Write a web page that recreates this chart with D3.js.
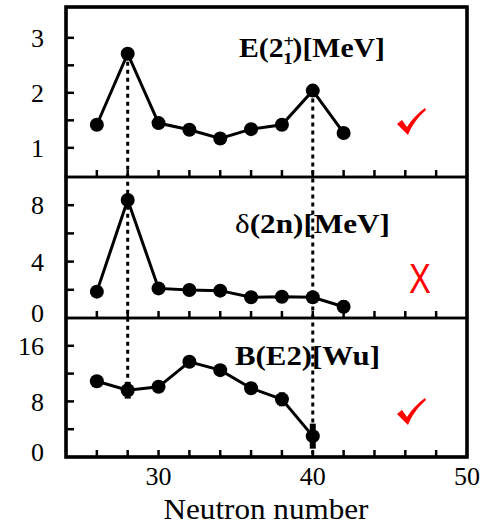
<!DOCTYPE html>
<html>
<head>
<meta charset="utf-8">
<script src="https://cdn.jsdelivr.net/npm/d3@7/dist/d3.min.js"></script>
<style>
  html, body { margin: 0; padding: 0; background: #fff; }
  svg { display: block; }
  text { font-family: "Liberation Serif", "Times New Roman", serif; fill: #000; }
</style>
</head>
<body>
<div id="chart"></div>
<script>
(() => {
  'use strict';

  // ── Data ──
  const neutrons   = [26, 28, 30, 32, 34, 36, 38, 40, 42];
  const e2Values   = [1.42, 2.71, 1.45, 1.33, 1.17, 1.34, 1.42, 2.04, 1.27];
  const d2nValues  = [1.87, 8.37, 2.10, 1.99, 1.94, 1.47, 1.51, 1.47, 0.80];
  const d2nErrors  = [0, 0.3, 0, 0, 0, 0, 0, 0, 0.45];
  const be2Neutron = [26, 28, 30, 32, 34, 36, 38, 40];
  const be2Values  = [10.9, 9.6, 10.1, 13.7, 12.5, 9.9, 8.3, 3.0];
  const be2Errors  = [0, 1.2, 0, 0, 0, 0, 1.0, 1.8];
  const xTickVals  = [30, 40, 50];
  const xMinorVals = [26, 28, 32, 34, 36, 38, 42, 44, 46, 48];

  // ── Layout ──
  const W = 480, H = 524;
  const left = 66, right = 467;
  const x = d3.scaleLinear().domain([24, 50]).range([left, right]);

  const panels = [
    { top: 7,   bottom: 177, domain: [0.47, 3.56], ticks: [1, 1.5, 2, 2.5, 3], labels: [1, 2, 3],
      xs: neutrons, ys: e2Values, errs: null, mark: 'check', markY: 108 },
    { top: 177, bottom: 318, domain: [0, 10], ticks: [2, 4, 6, 8], labels: [0, 4, 8],
      xs: neutrons, ys: d2nValues, errs: d2nErrors, mark: 'cross', markY: 293 },
    { top: 318, bottom: 457, domain: [0, 20], ticks: [4, 8, 12, 16], labels: [0, 8, 16],
      xs: be2Neutron, ys: be2Values, errs: be2Errors, mark: 'check', markY: 398 }
  ];
  panels.forEach(p => {
    p.y = d3.scaleLinear().domain(p.domain).range([p.bottom, p.top]);
  });

  const svg = d3.select('#chart').append('svg')
    .attr('width', W).attr('height', H);

  // ── Dashed guides at magic numbers ──
  const yE = panels[0].y, yB = panels[2].y;
  svg.append('line')
    .attr('x1', x(28)).attr('x2', x(28))
    .attr('y1', yE(e2Values[1])).attr('y2', yB(be2Values[1]))
    .attr('stroke', '#000').attr('stroke-width', 3).attr('stroke-dasharray', '4 4');
  svg.append('line')
    .attr('x1', x(40)).attr('x2', x(40))
    .attr('y1', yE(e2Values[7])).attr('y2', panels[2].bottom)
    .attr('stroke', '#000').attr('stroke-width', 3).attr('stroke-dasharray', '4 4');

  const line = d3.line();

  panels.forEach(p => {
    const g = svg.append('g');

    // x ticks (inside, pointing up)
    [...xTickVals.filter(v => v < 50), ...xMinorVals].forEach(v => {
      g.append('line')
        .attr('x1', x(v)).attr('x2', x(v))
        .attr('y1', p.bottom).attr('y2', p.bottom - 7)
        .attr('stroke', '#000').attr('stroke-width', 2.5);
    });

    // y ticks (inside, pointing right)
    p.ticks.forEach(v => {
      g.append('line')
        .attr('x1', left).attr('x2', left + 8)
        .attr('y1', p.y(v)).attr('y2', p.y(v))
        .attr('stroke', '#000').attr('stroke-width', 2.5);
    });

    // y labels
    p.labels.forEach(v => {
      let yy = p.y(v);
      if (v === 0) yy = p.bottom - 5;
      g.append('text')
        .attr('x', left - 22).attr('y', yy)
        .attr('dy', '0.35em')
        .attr('text-anchor', 'end')
        .attr('font-size', 26)
        .text(v);
    });

    // error bars
    if (p.errs) {
      p.xs.forEach((n, i) => {
        if (!p.errs[i]) return;
        g.append('line')
          .attr('x1', x(n)).attr('x2', x(n))
          .attr('y1', p.y(p.ys[i] - p.errs[i])).attr('y2', p.y(p.ys[i] + p.errs[i]))
          .attr('stroke', '#000').attr('stroke-width', 6);
      });
    }

    // connecting line
    g.append('path')
      .attr('d', line(p.xs.map((n, i) => [x(n), p.y(p.ys[i])])))
      .attr('fill', 'none').attr('stroke', '#000').attr('stroke-width', 3);

    // points
    g.selectAll('circle')
      .data(p.xs.map((n, i) => [n, p.ys[i]]))
      .join('circle')
      .attr('cx', d => x(d[0])).attr('cy', d => p.y(d[1]))
      .attr('r', 7).attr('fill', '#000');

    // right-side marks
    if (p.mark === 'check') {
      g.append('path')
        .attr('transform', `translate(397,${p.markY})`)
        .attr('d', 'M0,16 L5,12 L10,19 C15,11 21,5 28,0 L29,2 C21,9 15,17 11,27 Z')
        .attr('fill', '#ff0000');
    } else {
      g.append('text')
        .attr('transform', `translate(420,${p.markY}) scale(0.78,1)`)
        .attr('text-anchor', 'middle')
        .style('font-family', '"Liberation Sans", Arial, sans-serif')
        .style('font-size', '42px')
        .style('fill', '#ff0000')
        .text('X');
    }
  });

  // ── Panel labels ──
  const t1 = svg.append('text')
    .attr('x', 239).attr('y', 57)
    .attr('font-size', 27).attr('font-weight', 'bold')
    .attr('textLength', 146).attr('lengthAdjust', 'spacingAndGlyphs');
  t1.append('tspan').text('E(2');
  t1.append('tspan').attr('dy', -10).attr('font-size', 17).text('+');
  t1.append('tspan').attr('dx', -10).attr('dy', 17).attr('font-size', 17).text('1');
  t1.append('tspan').attr('dy', -7).text(')[MeV]');

  const t2 = svg.append('text')
    .attr('x', 235).attr('y', 233)
    .attr('font-size', 27)
    .attr('textLength', 155).attr('lengthAdjust', 'spacingAndGlyphs');
  t2.append('tspan').text('δ');
  t2.append('tspan').attr('font-weight', 'bold').text('(2n)[MeV]');

  svg.append('text')
    .attr('x', 235).attr('y', 365)
    .attr('font-size', 27).attr('font-weight', 'bold')
    .attr('textLength', 145).attr('lengthAdjust', 'spacingAndGlyphs')
    .text('B(E2)[Wu]');

  // ── Frames ──
  panels.forEach(p => {
    svg.append('rect')
      .attr('x', left).attr('y', p.top)
      .attr('width', right - left).attr('height', p.bottom - p.top)
      .attr('fill', 'none').attr('stroke', '#000').attr('stroke-width', 2.5);
  });
  svg.append('rect')
    .attr('x', left).attr('y', 7)
    .attr('width', right - left).attr('height', 457 - 7)
    .attr('fill', 'none').attr('stroke', '#000').attr('stroke-width', 3.5);

  // ── X axis labels ──
  xTickVals.forEach(v => {
    svg.append('text')
      .attr('x', x(v)).attr('y', 485)
      .attr('text-anchor', 'middle')
      .attr('font-size', 26)
      .text(v);
  });
  svg.append('text')
    .attr('x', 266).attr('y', 519)
    .attr('text-anchor', 'middle')
    .attr('font-size', 29)
    .attr('textLength', 205).attr('lengthAdjust', 'spacingAndGlyphs')
    .text('Neutron number');
})();
</script>
</body>
</html>
